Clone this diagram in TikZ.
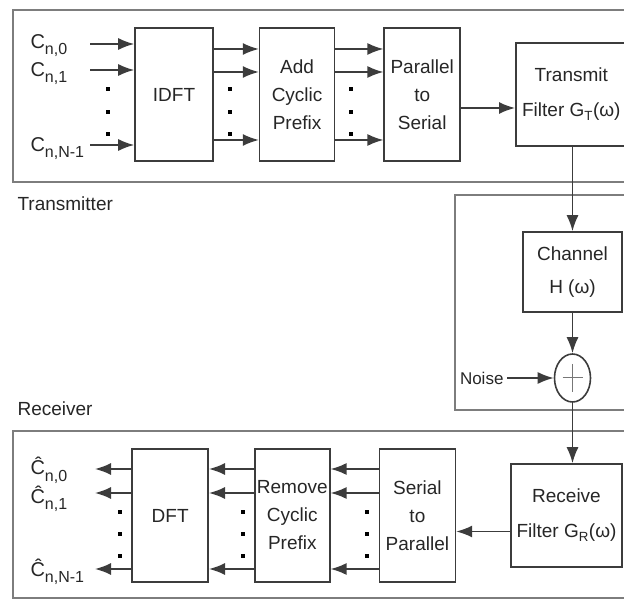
\documentclass[tikz,border=0pt]{standalone}
\usepackage{fontspec}
\setmainfont{Liberation Sans}
\usetikzlibrary{arrows.meta,positioning,shapes.geometric,calc}
\definecolor{linecolor}{RGB}{60,60,60}
\definecolor{framecolor}{RGB}{125,125,125}
\newcommand\lsub[1]{\raisebox{-6pt}{\fontsize{16}{16}\selectfont#1}}

\begin{document}
\begin{tikzpicture}[x=1pt,y=-1pt,>={Latex[length=16pt,width=12pt]},
  every node/.style={font=\fontsize{19}{28}\selectfont,text=black!85},
  block/.style={draw=linecolor,line width=1.6pt,align=center,minimum width=76pt,minimum height=133pt,inner sep=1pt},
  filt/.style={block,minimum width=111pt,minimum height=103pt},
  frame/.style={draw=framecolor,line width=2.2pt},
  sig/.style={draw=linecolor,line width=1.6pt,->},
  sym/.style={anchor=base west,font=\fontsize{20}{24}\selectfont}]
\useasboundingbox (0,0) rectangle (624,601);
\draw[frame](13,10) rectangle (640,182);
\draw[frame](455,195) rectangle (640,410);
\draw[frame](13,431) rectangle (640,598);
\node[anchor=base west](txlabel) at (14,211){Transmitter};
\node[anchor=base west](rxlabel) at (14,416){Receiver};
% transmitter
\node[block,minimum width=78pt](idft) at (174,94.5){IDFT};
\node[block,right=45pt of idft,minimum width=75pt](addcp){Add\\Cyclic\\Prefix};
\node[block,right=48pt of addcp](ps){Parallel\\to\\Serial};
\node[filt,right=54pt of ps](txf){Transmit\\[7pt]Filter G\textsubscript{T}(ω)};
\node[sym](c0) at (27,49){C\lsub{n,0}};
\node[sym](c1) at (27,77){C\lsub{n,1}};
\node[sym](cn) at (27,152){C\lsub{n,N-1}};
\foreach \y/\n in {44/0,70/1,145/2}{\coordinate(in\n) at (90,\y); \draw[sig](in\n)--(in\n -| idft.west);}
\foreach \y in {49,72,140}{\draw[sig](idft.east |- 0,\y)--(addcp.west |- 0,\y); \draw[sig](addcp.east |- 0,\y)--(ps.west |- 0,\y);}
\foreach \x in {108,230,351}\foreach \y in {89,112,134}{\fill[black](\x-2.2,\y-2.2) rectangle +(4.4,4.4);}
\coordinate(pso) at ($(ps.east)+(0,13.5)$);
\draw[sig](pso)--(pso -| txf.west);
% channel
\node[block,minimum width=99pt,minimum height=80pt](chan) at (572.5,272){Channel\\[5pt]H (ω)};
\node[draw=linecolor,line width=1.6pt,ellipse,minimum width=36pt,minimum height=48pt,inner sep=0pt](add) at (572.5,378){};
\draw[linecolor!70,line width=1pt]($(add.center)+(-10,0)$)--($(add.center)+(10,0)$);
\draw[linecolor!70,line width=1pt]($(add.center)+(0,-14)$)--($(add.center)+(0,14)$);
\node[anchor=east,font=\fontsize{17}{20}\selectfont](noise) at (507,378){Noise};
\draw[sig](noise)--(add);
\draw[sig](txf.south -| chan.north)--(chan.north);
\draw[sig](chan)--(add);
% receiver
\node[filt](rxf) at (566.5,515.5){Receive\\[7pt]Filter G\textsubscript{R}(ω)};
\draw[sig](add.south)--(add.south |- rxf.north);
\node[block,left=54pt of rxf](sp){Serial\\to\\Parallel};
\node[block,left=48pt of sp,minimum width=75pt](rem){Remove\\Cyclic\\Prefix};
\node[block,left=45pt of rem](dft){DFT};
\coordinate(rxi) at ($(rxf.west)+(0,16)$);
\draw[sig](rxi)--(rxi -| sp.east);
\foreach \y/\n in {469/0,493/1,569/2}{\coordinate(out\n) at (95,\y);
  \draw[sig](sp.west |- 0,\y)--(rem.east |- 0,\y); \draw[sig](rem.west |- 0,\y)--(dft.east |- 0,\y); \draw[sig](dft.west |- out\n)--(out\n);}
\foreach \x in {120,243,367}\foreach \y in {512,534,556}{\fill[black](\x-2.2,\y-2.2) rectangle +(4.4,4.4);}
\node[sym](h0) at (27,475){\^{C}\lsub{n,0}};
\node[sym](h1) at (27,503){\^{C}\lsub{n,1}};
\node[sym](hn) at (27,576){\^{C}\lsub{n,N-1}};
\end{tikzpicture}
\end{document}
